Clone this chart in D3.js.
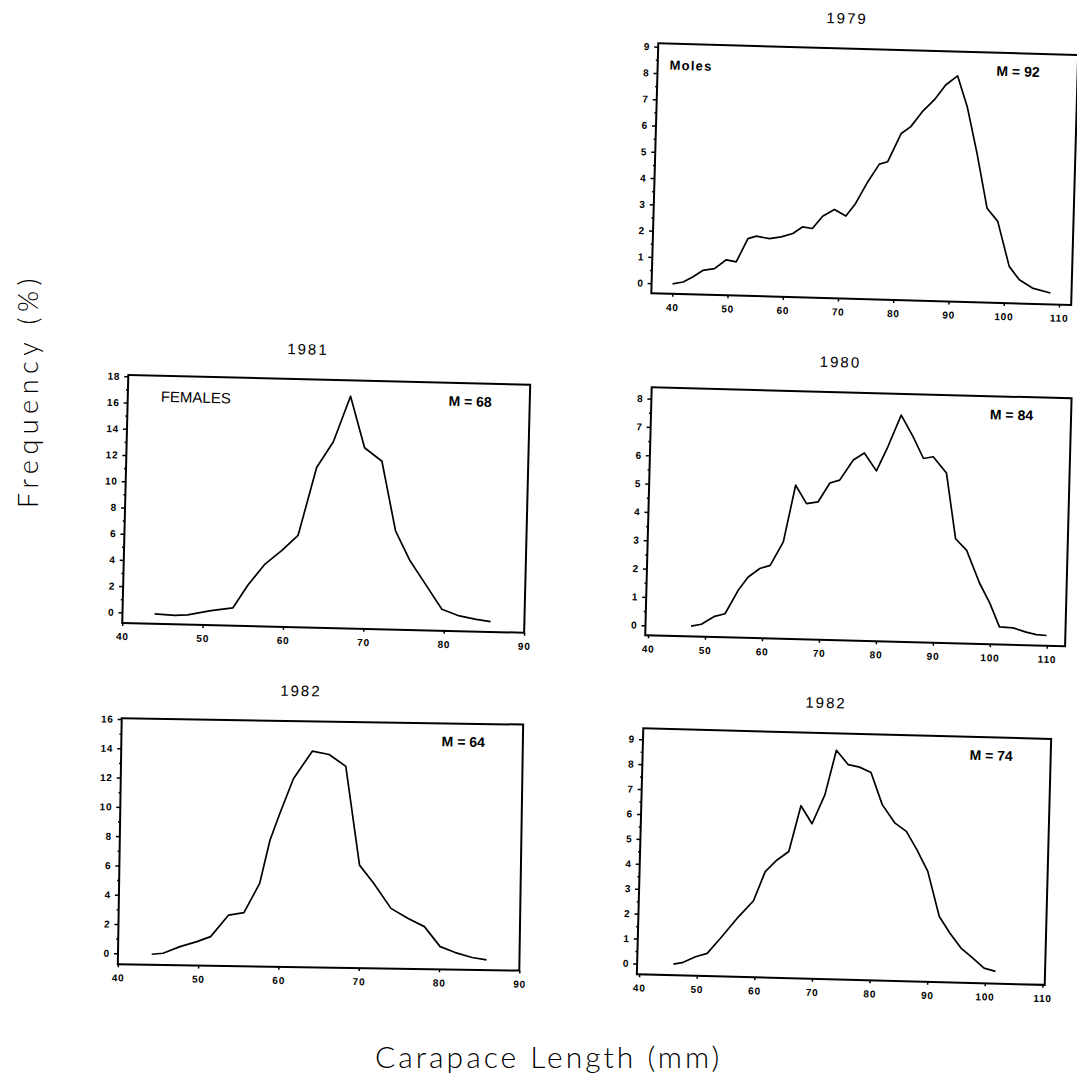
<!DOCTYPE html>
<html>
<head>
<meta charset="utf-8">
<script src="https://cdn.jsdelivr.net/npm/d3@7"></script>
<style>
  body { margin: 0; background: #fff; }
  text { fill: #000; }
</style>
</head>
<body>
<svg id="chart" width="1077" height="1083"></svg>
<script>
// carapace length (mm) and frequency (%)
var len1979  = [40.0, 41.9, 43.6, 45.4, 47.5, 49.6, 51.4, 53.4, 54.9, 57.3, 59.4, 61.5, 63.2, 65.0, 66.8, 68.9, 71.0, 72.7, 74.8, 76.8, 78.3, 80.6, 82.3, 84.3, 86.4, 88.4, 90.5, 92.4, 94.4, 96.5, 98.5, 100.8, 102.7, 105.1, 108.4];
var freq1979 = [0.0, 0.08, 0.28, 0.54, 0.62, 0.97, 0.90, 1.80, 1.90, 1.82, 1.90, 2.04, 2.30, 2.25, 2.73, 3.00, 2.76, 3.25, 4.09, 4.77, 4.87, 5.96, 6.23, 6.81, 7.27, 7.85, 8.21, 7.05, 5.29, 3.21, 2.72, 1.02, 0.52, 0.22, 0.05];

var len1981  = [44.0, 46.5, 48.1, 51.0, 53.7, 55.5, 57.5, 59.6, 61.6, 63.7, 65.7, 67.7, 69.6, 71.8, 73.7, 75.6, 77.6, 79.7, 81.9, 84.0, 85.8];
var freq1981 = [-0.05, -0.12, -0.07, 0.3, 0.55, 2.3, 3.9, 5.0, 6.2, 11.4, 13.4, 16.9, 13.0, 12.0, 6.73, 4.47, 2.7, 0.84, 0.36, 0.13, -0.02];

var len1980  = [47.5, 49.3, 51.6, 53.4, 55.6, 57.3, 59.3, 61.1, 63.3, 65.2, 67.2, 69.2, 71.2, 72.9, 75.2, 77.1, 79.3, 81.2, 83.4, 85.6, 87.5, 89.2, 91.6, 93.5, 95.5, 97.9, 99.8, 101.6, 104.0, 106.3, 108.1, 109.9];
var freq1980 = [0.01, 0.09, 0.38, 0.48, 1.32, 1.8, 2.11, 2.23, 3.07, 5.08, 4.44, 4.51, 5.19, 5.3, 6.02, 6.28, 5.66, 6.52, 7.65, 6.89, 6.14, 6.21, 5.65, 3.34, 2.94, 1.8, 1.1, 0.27, 0.25, 0.11, 0.03, 0.01];

var len1982f  = [44.2, 45.6, 47.7, 49.8, 51.5, 53.7, 55.6, 57.5, 58.7, 59.9, 61.5, 63.8, 65.9, 68.0, 69.9, 71.7, 73.9, 76.0, 78.1, 80.1, 82.0, 84.1, 85.9];
var freq1982f = [-0.03, 0.05, 0.52, 0.88, 1.24, 2.73, 2.91, 4.92, 7.88, 9.75, 12.11, 14.01, 13.8, 13.01, 6.28, 5.05, 3.36, 2.70, 2.15, 0.80, 0.41, 0.09, -0.05];

var len1982m  = [45.9, 47.4, 49.7, 51.7, 53.9, 57.0, 59.5, 61.4, 63.4, 65.4, 67.3, 69.3, 71.4, 73.2, 75.3, 77.3, 79.3, 81.4, 83.7, 85.7, 87.6, 89.6, 91.8, 93.7, 95.7, 97.5, 99.8, 101.8];
var freq1982m = [0.01, 0.08, 0.33, 0.48, 1.09, 1.99, 2.64, 3.82, 4.3, 4.65, 6.5, 5.79, 6.96, 8.76, 8.2, 8.11, 7.91, 6.63, 5.9, 5.58, 4.86, 4.0, 2.2, 1.55, 0.96, 0.63, 0.18, 0.06];

// tick labels
var xTicksWide   = [40, 50, 60, 70, 80, 90, 100, 110];
var xTicksNarrow = [40, 50, 60, 70, 80, 90];
var yTicks9  = [0, 1, 2, 3, 4, 5, 6, 7, 8, 9];
var yTicks8  = [0, 1, 2, 3, 4, 5, 6, 7, 8];
var yTicks18 = [0, 2, 4, 6, 8, 10, 12, 14, 16, 18];
var yTicks16 = [0, 2, 4, 6, 8, 10, 12, 14, 16];

var titles = ["1979", "1981", "1980", "1982", "1982"];
var modes  = ["M = 92", "M = 68", "M = 84", "M = 64", "M = 74"];
var groupLabels = ["Moles", "FEMALES", "", "", ""];

// panel frames (the scan is slightly tilted, so each box is rotated a little)
var panels = [
  { len: len1979,  freq: freq1979,  tl: [658.3, 43.3],  w: 420, h: 250, angle: 1.6,
    xDomain: [36.2, 112.2], yDomain: [-0.38, 9.13], xTicks: xTicksWide,   yTicks: yTicks9,  yMinor: 0.5, labelX: 12 },
  { len: len1981,  freq: freq1981,  tl: [128.3, 375],   w: 402, h: 248, angle: 1.4,
    xDomain: [40, 90],      yDomain: [-0.8, 18.1],  xTicks: xTicksNarrow, yTicks: yTicks18, yMinor: 1,   labelX: 33 },
  { len: len1980,  freq: freq1980,  tl: [651.7, 387.3], w: 420, h: 248, angle: 1.5,
    xDomain: [39.5, 113.2], yDomain: [-0.35, 8.4],  xTicks: xTicksWide,   yTicks: yTicks8,  yMinor: 0.5, labelX: 12 },
  { len: len1982f, freq: freq1982f, tl: [121.7, 718.3], w: 401.5, h: 246, angle: 0.9,
    xDomain: [40, 90],      yDomain: [-0.75, 16.05], xTicks: xTicksNarrow, yTicks: yTicks16, yMinor: 1,  labelX: 12 },
  { len: len1982m, freq: freq1982m, tl: [643.3, 728.3], w: 408, h: 246, angle: 1.5,
    xDomain: [39.6, 110.4], yDomain: [-0.43, 9.44], xTicks: xTicksWide,   yTicks: yTicks9,  yMinor: 0.5, labelX: 12 }
];

var svg = d3.select("#chart");

function drawPanel(p, i) {
  var g = svg.append("g")
    .attr("transform", "translate(" + p.tl + ") rotate(" + p.angle + ")");

  var x = d3.scaleLinear().domain(p.xDomain).range([0, p.w]);
  var y = d3.scaleLinear().domain(p.yDomain).range([p.h, 0]);

  // minor ticks on the y axis
  var minor = d3.range(p.yTicks[0], p.yTicks[p.yTicks.length - 1] + 0.001, p.yMinor)
    .filter(function(v) { return p.yTicks.indexOf(v) < 0 && v <= p.yDomain[1]; });
  g.append("g")
    .call(d3.axisLeft(y).tickValues(minor).tickSize(2).tickFormat(""));

  g.append("g")
    .attr("class", "yaxis")
    .call(d3.axisLeft(y).tickValues(p.yTicks).tickSize(4).tickPadding(4).tickFormat(d3.format("d")));

  g.append("g")
    .attr("class", "xaxis")
    .attr("transform", "translate(0," + p.h + ")")
    .call(d3.axisBottom(x).tickValues(p.xTicks).tickSize(3).tickPadding(7));

  g.selectAll(".domain").remove();
  g.selectAll(".tick line").attr("stroke", "#000").attr("stroke-width", 1.5);
  g.selectAll(".tick text")
    .attr("font-family", "'Liberation Sans', Arial, sans-serif")
    .attr("font-size", 10)
    .attr("font-weight", "bold")
    .attr("letter-spacing", 0.8);

  g.append("rect")
    .attr("width", p.w)
    .attr("height", p.h)
    .attr("fill", "none")
    .attr("stroke", "#000")
    .attr("stroke-width", 2);

  var line = d3.line()
    .x(function(d) { return x(d[0]); })
    .y(function(d) { return y(d[1]); });

  g.append("path")
    .datum(d3.zip(p.len, p.freq))
    .attr("d", line)
    .attr("fill", "none")
    .attr("stroke", "#000")
    .attr("stroke-width", 1.7)
    .attr("stroke-linejoin", "round");

  g.append("text")
    .attr("x", p.w / 2 - 22)
    .attr("y", -25)
    .attr("text-anchor", "middle")
    .attr("font-family", "'Liberation Sans', Arial, sans-serif")
    .attr("font-size", 15)
    .attr("letter-spacing", 2)
    .text(titles[i]);

  g.append("text")
    .attr("x", p.w - 38)
    .attr("y", 23)
    .attr("text-anchor", "end")
    .attr("font-family", "'Liberation Sans', Arial, sans-serif")
    .attr("font-size", 14)
    .attr("font-weight", "bold")
    .text(modes[i]);

  if (groupLabels[i]) {
    g.append("text")
      .attr("x", p.labelX)
      .attr("y", 26)
      .attr("font-family", "'Liberation Sans', Arial, sans-serif")
      .attr("font-size", i == 0 ? 13 : 15)
      .attr("font-weight", i == 0 ? "bold" : "normal")
      .attr("letter-spacing", i == 0 ? 1.2 : 0)
      .text(groupLabels[i]);
  }
}

panels.forEach(drawPanel);

// shared axis titles
svg.append("text")
  .attr("transform", "translate(38,508) rotate(-90)")
  .attr("font-family", "Lato, 'Open Sans', sans-serif")
  .attr("font-weight", 300)
  .attr("font-size", 27)
  .attr("letter-spacing", 5.5)
  .text("Frequency (%)");

svg.append("text")
  .attr("x", 375)
  .attr("y", 1068)
  .attr("font-family", "Lato, 'Open Sans', sans-serif")
  .attr("font-weight", 300)
  .attr("font-size", 30)
  .attr("letter-spacing", 3)
  .text("Carapace Length (mm)");
</script>
</body>
</html>
